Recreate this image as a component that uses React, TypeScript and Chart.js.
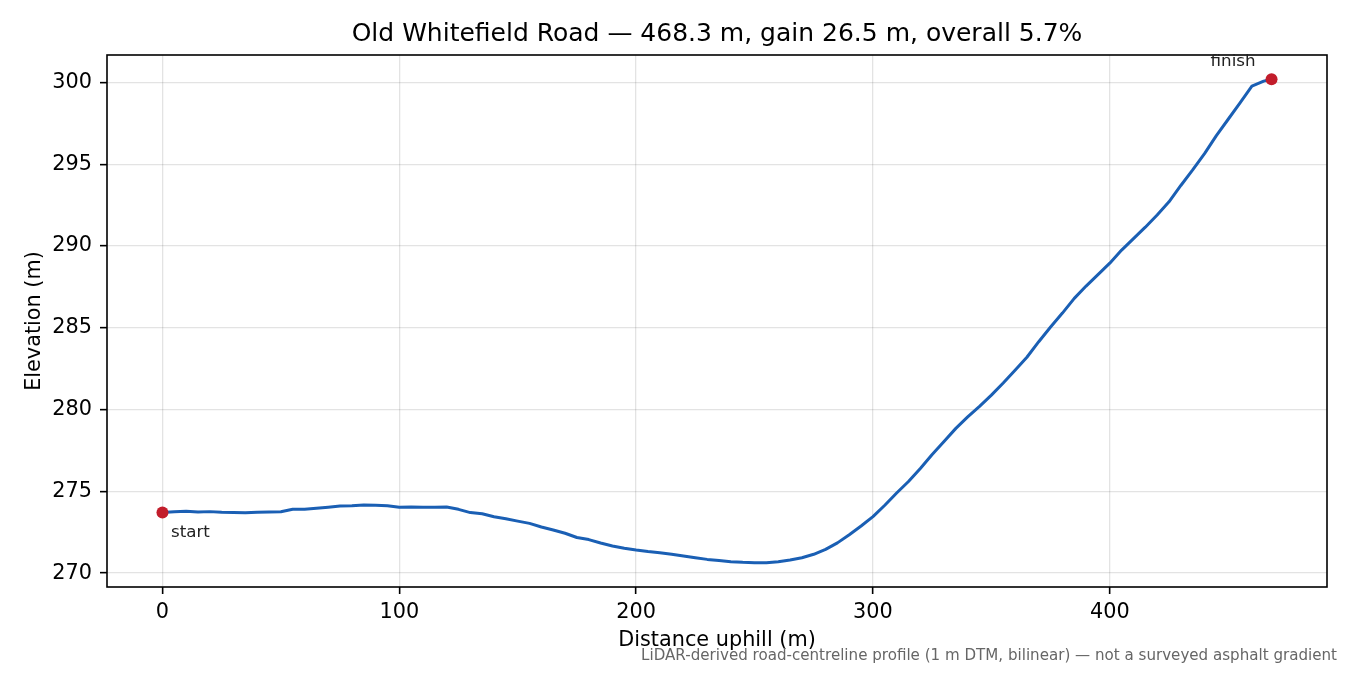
import { useEffect, useRef } from "react";
import { Chart, registerables } from "chart.js";

Chart.register(...registerables);

const TITLE = "Old Whitefield Road — 468.3 m, gain 26.5 m, overall 5.7%";
const X_LABEL = "Distance uphill (m)";
const Y_LABEL = "Elevation (m)";
const FOOTNOTE =
  "LiDAR-derived road-centreline profile (1 m DTM, bilinear) — not a surveyed asphalt gradient";
const START_LABEL = "start";
const FINISH_LABEL = "finish";

const X_TICKS = [0, 100, 200, 300, 400];
const Y_TICKS = [270, 275, 280, 285, 290, 295, 300];

const DISTANCE = [
  0, 5, 10, 15, 20, 25, 30, 35, 40, 45, 50, 55, 60, 65, 70, 75, 80, 85, 90, 95,
  100, 105, 110, 115, 120, 125, 130, 135, 140, 145, 150, 155, 160, 165, 170, 175,
  180, 185, 190, 195, 200, 205, 210, 215, 220, 225, 230, 235, 240, 245, 250, 255,
  260, 265, 270, 275, 280, 285, 290, 295, 300, 305, 310, 315, 320, 325, 330, 335,
  340, 345, 350, 355, 360, 365, 370, 375, 380, 385, 390, 395, 400, 405, 410, 415,
  420, 425, 430, 435, 440, 445, 450, 455, 460, 465, 468.3,
];

const ELEVATION = [
  273.71, 273.75, 273.78, 273.73, 273.76, 273.72, 273.7, 273.69, 273.72, 273.74,
  273.75, 273.9, 273.91, 273.97, 274.03, 274.1, 274.12, 274.16, 274.15, 274.12,
  274.03, 274.05, 274.03, 274.02, 274.04, 273.9, 273.7, 273.63, 273.45, 273.33,
  273.18, 273.04, 272.82, 272.64, 272.44, 272.18, 272.05, 271.84, 271.66, 271.52,
  271.41, 271.32, 271.25, 271.16, 271.05, 270.94, 270.84, 270.77, 270.7, 270.66,
  270.64, 270.63, 270.7, 270.8, 270.94, 271.15, 271.45, 271.85, 272.35, 272.88,
  273.45, 274.15, 274.9, 275.6, 276.4, 277.25, 278.05, 278.85, 279.55, 280.2,
  280.88, 281.62, 282.4, 283.2, 284.15, 285.05, 285.9, 286.8, 287.55, 288.25,
  288.95, 289.75, 290.45, 291.15, 291.9, 292.7, 293.7, 294.65, 295.65, 296.75,
  297.75, 298.75, 299.78, 300.08, 300.2,
];

const FONT = "'DejaVu Sans', 'Liberation Sans', sans-serif";
const LINE_COLOR = "#1a5fb4";
const MARKER_COLOR = "#c21d2b";

export default function App() {
  const canvasRef = useRef<HTMLCanvasElement | null>(null);

  useEffect(() => {
    const canvas = canvasRef.current;
    if (!canvas) return;

    const xMinD = Math.min(...DISTANCE);
    const xMaxD = Math.max(...DISTANCE);
    const yMinD = Math.min(...ELEVATION);
    const yMaxD = Math.max(...ELEVATION);
    const xPad = (xMaxD - xMinD) * 0.05;
    const yPad = (yMaxD - yMinD) * 0.05;

    const lineData = DISTANCE.map((d, i) => ({ x: d, y: ELEVATION[i] }));
    const last = DISTANCE.length - 1;
    const markerData = [
      { x: DISTANCE[0], y: ELEVATION[0] },
      { x: DISTANCE[last], y: ELEVATION[last] },
    ];

    const overlay = {
      id: "overlay",
      afterDatasetsDraw(chart: any) {
        const { ctx, chartArea: a, scales } = chart;
        ctx.save();
        ctx.strokeStyle = "#000";
        ctx.lineWidth = 1.6;
        ctx.strokeRect(a.left, a.top, a.right - a.left, a.bottom - a.top);

        ctx.font = `25px ${FONT}`;
        ctx.fillStyle = "#000";
        ctx.textAlign = "center";
        ctx.textBaseline = "alphabetic";
        ctx.fillText(TITLE, (a.left + a.right) / 2, 40.7);

        const xs = scales.x;
        const ys = scales.y;
        const x0 = xs.getPixelForValue(DISTANCE[0]);
        const y0 = ys.getPixelForValue(ELEVATION[0]);
        const xn = xs.getPixelForValue(DISTANCE[last]);
        const yn = ys.getPixelForValue(ELEVATION[last]);

        ctx.font = `16.7px ${FONT}`;
        ctx.fillStyle = "#222";
        ctx.textAlign = "left";
        ctx.fillText(START_LABEL, x0 + 8.5, y0 + 25);
        ctx.textAlign = "right";
        ctx.fillText(FINISH_LABEL, xn - 16, yn - 13);

        ctx.font = `15.1px ${FONT}`;
        ctx.fillStyle = "#666";
        ctx.textAlign = "right";
        ctx.fillText(FOOTNOTE, 1337, 660);
        ctx.restore();
      },
    };

    const chart = new Chart(canvas, {
      type: "line",
      data: {
        datasets: [
          {
            type: "scatter",
            data: markerData,
            backgroundColor: MARKER_COLOR,
            borderColor: MARKER_COLOR,
            borderWidth: 0,
            pointRadius: 6,
            showLine: false,
          } as any,
          {
            data: lineData,
            borderColor: LINE_COLOR,
            borderWidth: 3,
            pointRadius: 0,
            tension: 0,
            fill: false,
            borderJoinStyle: "round",
            borderCapStyle: "round",
          },
        ],
      },
      options: {
        animation: false,
        responsive: true,
        maintainAspectRatio: false,
        layout: { padding: { left: 0, right: 23, top: 55, bottom: 0 } },
        plugins: {
          legend: { display: false },
          tooltip: { enabled: false },
          title: { display: false },
        },
        scales: {
          x: {
            type: "linear",
            min: xMinD - xPad,
            max: xMaxD + xPad,
            afterFit: (s: any) => {
              s.height = 88;
            },
            afterBuildTicks: (s: any) => {
              s.ticks = X_TICKS.map((v) => ({ value: v }));
            },
            ticks: {
              color: "#000",
              font: { family: FONT, size: 20.8 },
              padding: 6,
              maxRotation: 0,
              callback: (v: any) => String(v),
            },
            grid: {
              color: "rgba(0,0,0,0.11)",
              lineWidth: 1.3,
              drawTicks: true,
              tickLength: 7,
              tickColor: "#000",
              tickWidth: 1.6,
            },
            border: { display: false },
            title: {
              display: true,
              text: X_LABEL,
              color: "#000",
              font: { family: FONT, size: 20.8 },
              padding: { top: 0, bottom: 21.8 },
            },
          },
          y: {
            type: "linear",
            min: yMinD - yPad,
            max: yMaxD + yPad,
            afterFit: (s: any) => {
              s.width = 107;
            },
            afterBuildTicks: (s: any) => {
              s.ticks = Y_TICKS.map((v) => ({ value: v }));
            },
            ticks: {
              color: "#000",
              font: { family: FONT, size: 20.8 },
              padding: 8,
              callback: (v: any) => String(v),
            },
            grid: {
              color: "rgba(0,0,0,0.11)",
              lineWidth: 1.3,
              drawTicks: true,
              tickLength: 7,
              tickColor: "#000",
              tickWidth: 1.6,
            },
            border: { display: false },
            title: {
              display: true,
              text: Y_LABEL,
              color: "#000",
              font: { family: FONT, size: 20.8 },
              padding: { top: 22.5, bottom: 0 },
            },
          },
        },
      },
      plugins: [overlay],
    });

    return () => chart.destroy();
  }, []);

  return (
    <div
      style={{
        position: "absolute",
        left: 0,
        top: 0,
        width: 1350,
        height: 675,
        background: "#fff",
      }}
    >
      <canvas ref={canvasRef} />
    </div>
  );
}
